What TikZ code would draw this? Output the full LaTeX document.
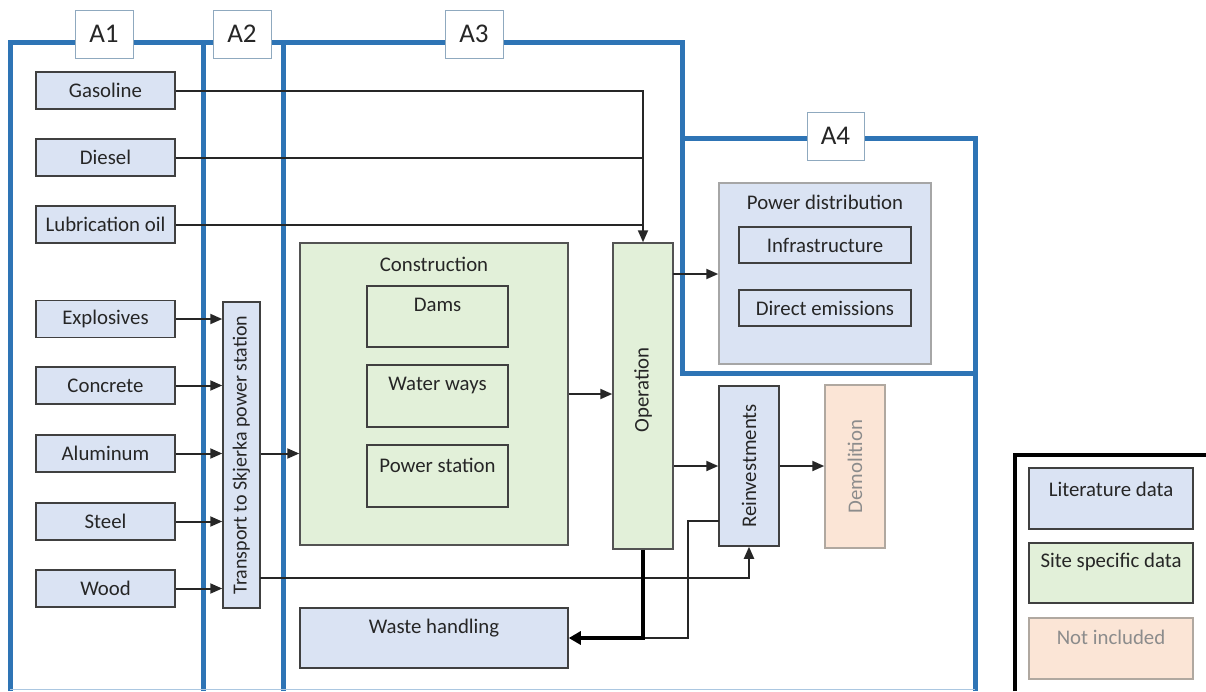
\documentclass[tikz,border=0pt]{standalone}
\usepackage{fontspec}
\setmainfont{Carlito}
\usetikzlibrary{arrows.meta}
\definecolor{frameblue}{HTML}{2E74B5}
\definecolor{litblue}{HTML}{DAE3F3}
\definecolor{sitegreen}{HTML}{E2F0D9}
\definecolor{peach}{HTML}{FBE5D6}
\definecolor{boxline}{HTML}{404040}
\definecolor{greyline}{HTML}{A6A6A6}
\definecolor{peachline}{HTML}{B0A8A0}
\definecolor{greytext}{HTML}{8C8C8C}
\definecolor{labline}{HTML}{8FA9BF}
\begin{document}
\begin{tikzpicture}[x=1pt,y=-1pt,
  every node/.style={inner sep=0pt, text=black!85},
  fnt/.style={font=\fontsize{20.8}{24}\selectfont},
  matbox/.style={draw=boxline, fill=litblue, line width=1.5pt, minimum width=139pt, minimum height=37pt, fnt},
  litbox/.style={draw=boxline, fill=litblue, line width=1.5pt},
  greenbox/.style={draw=boxline!90, fill=sitegreen, line width=1.5pt},
  innerbox/.style={draw=boxline, line width=1.5pt},
  peachbox/.style={draw=peachline, fill=peach, line width=1.5pt},
  txt/.style={fnt, anchor=center},
  frame/.style={draw=frameblue, line width=5pt},
  alabel/.style={draw=labline, fill=white, line width=1pt, minimum width=58pt, minimum height=48pt, font=\fontsize{27}{30}\selectfont},
  conn/.style={draw=black!85, line width=2pt},
  arr/.style={conn, -{Triangle[length=12pt,width=10pt]}},
  thickarr/.style={draw=black, line width=4.5pt, -{Triangle[length=12pt,width=13pt]}}
]
\useasboundingbox (0,0) rectangle (1206,691);
\fill[white] (0,0) rectangle (1206,691);

% blue frames
\draw[frame, line join=miter] (10,691) -- (10,42) -- (682,42) -- (682,373) -- (975,373);
\draw[frame, line join=miter] (682,138) -- (975,138) -- (975,691);
\draw[frame] (203,42) -- (203,691);
\draw[frame] (283,42) -- (283,691);
\draw[draw=frameblue!40, line width=1.5pt] (10,689.5) -- (975,689.5);

% area labels
\node[alabel] (a1) at (104,34) {A1};
\node[alabel] (a2) at (242,34) {A2};
\node[alabel] (a3) at (474,34) {A3};
\node[alabel, minimum width=57pt] (a4) at (835.5,136) {A4};

% legend frame
\draw[draw=black, line width=4pt, line join=miter] (1015,691) -- (1015,455) -- (1206,455);

% material boxes
\node[matbox] (gas) at (105.5,90.5) {Gasoline};
\node[matbox] (dies) at (105.5,157.5) {Diesel};
\node[matbox] (lub) at (105.5,224.5) {Lubrication oil};
\node[matbox] (expl) at (105.5,319) {Explosives};
\node[matbox] (conc) at (105.5,385.5) {Concrete};
\node[matbox] (alum) at (105.5,453.5) {Aluminum};
\node[matbox] (steel) at (105.5,521.5) {Steel};
\node[matbox] (wood) at (105.5,588.5) {Wood};

% transport
\node[litbox, minimum width=37pt, minimum height=306pt] (tr) at (241.5,455) {};
\node[txt, rotate=90, font=\fontsize{20}{24}\selectfont] (trt) at (tr.center) {Transport to Skjerka power station};

% construction
\node[greenbox, minimum width=268pt, minimum height=302pt] (cons) at (434,394) {};
\node[txt] (const) at (434,264) {Construction};
\node[innerbox, minimum width=141pt, minimum height=61pt] (dams) at (437.5,316.5) {};
\node[txt] (damst) at (437.5,305) {Dams};
\node[innerbox, minimum width=141pt, minimum height=62pt] (water) at (437.5,396) {};
\node[txt] (watert) at (437.5,385) {Water ways};
\node[innerbox, minimum width=141pt, minimum height=62pt] (pst) at (437.5,476) {};
\node[txt] (pstt) at (437.5,465) {Power station};

% operation
\node[greenbox, minimum width=60pt, minimum height=306pt] (op) at (643,396) {};
\node[txt, rotate=90] (opt) at (643,390) {Operation};

% power distribution
\node[draw=greyline, fill=litblue, line width=1.5pt, minimum width=212pt, minimum height=181pt] (pd) at (825,273.5) {};
\node[txt] (pdt) at (825,202) {Power distribution};
\node[innerbox, minimum width=172pt, minimum height=36pt, fnt] (infra) at (825,245) {Infrastructure};
\node[innerbox, minimum width=172pt, minimum height=36pt, fnt] (direct) at (825,308) {Direct emissions};

% reinvestments, demolition
\node[litbox, minimum width=60pt, minimum height=160pt] (reinv) at (749,466) {};
\node[txt, rotate=90] (reinvt) at (749,466) {Reinvestments};
\node[peachbox, minimum width=60pt, minimum height=163pt] (demol) at (855,466.5) {};
\node[txt, rotate=90, text=greytext] (demolt) at (855,466.5) {Demolition};

% waste handling
\node[litbox, minimum width=268pt, minimum height=60pt] (waste) at (434,638) {};
\node[txt] (wastet) at (434,628) {Waste handling};

% legend
\node[litbox, minimum width=164pt, minimum height=61pt] (leg1) at (1111,498.5) {};
\node[txt] (leg1t) at (1111,489) {Literature data};
\node[greenbox, draw=boxline, minimum width=164pt, minimum height=60pt] (leg2) at (1111,573) {};
\node[txt] (leg2t) at (1111,562) {Site specific data};
\node[peachbox, minimum width=164pt, minimum height=61pt] (leg3) at (1111,648.5) {};
\node[txt, text=greytext] (leg3t) at (1111,637) {Not included};

% connectors: fuels to operation
\draw[arr] (gas.east) -| (op.north);
\draw[conn] (dies.east) -- (dies.east -| op.north);
\draw[conn] (lub.east) -- (lub.east -| op.north);

% materials to transport
\draw[arr] (expl.east) -- (expl.east -| tr.west);
\draw[arr] (conc.east) -- (conc.east -| tr.west);
\draw[arr] (alum.east) -- (alum.east -| tr.west);
\draw[arr] (steel.east) -- (steel.east -| tr.west);
\draw[arr] (wood.east) -- (wood.east -| tr.west);

% transport to construction and to reinvestments
\draw[arr] (tr.east |- alum.east) -- (cons.west |- alum.east);
\coordinate (trout) at (260,578);
\draw[arr] (trout) -| (reinv.south);

% construction to operation
\draw[arr] (cons.east) -- (op.west |- cons.east);

% operation outputs
\coordinate (opd) at (673,274);
\draw[arr] (opd) -- (pd.west |- opd);
\draw[arr] (op.east |- reinv.west) -- (reinv.west);
\draw[arr] (reinv.east) -- (demol.west |- reinv.east);

% waste flows
\coordinate (rvl) at (719,521);
\coordinate (rvc) at (688,521);
\coordinate (rvb) at (688,638);
\coordinate (opw) at (643,638);
\draw[conn] (rvl) -- (rvc) -- (rvb) -- (opw);
\draw[thickarr] (op.south) |- (waste.east);
\end{tikzpicture}
\end{document}
